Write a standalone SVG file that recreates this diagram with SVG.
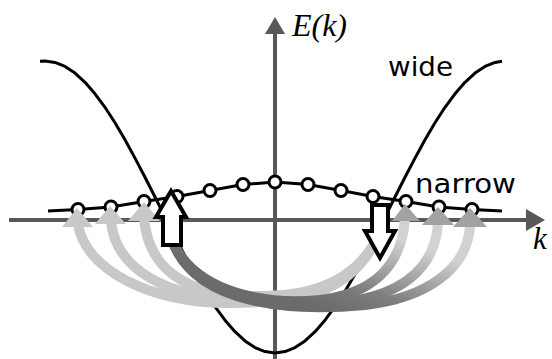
<svg xmlns="http://www.w3.org/2000/svg" width="552" height="359" viewBox="0 0 552 359">
<style>
.axis{stroke:#585858;stroke-width:4;fill:none}
.axhead{fill:#585858}
.band{fill:none;stroke:#000;stroke-width:3;stroke-linejoin:round;stroke-linecap:butt}
.dot{fill:#fff;stroke:#000;stroke-width:3}
.lc{fill:none;stroke:#c8c8c8;stroke-width:10}
.dc{fill:none;stroke:url(#dg);stroke-width:10}
.lh{fill:#c8c8c8}
.dh{fill:#a2a2a2}
.hollow{fill:#fff;stroke:#000;stroke-width:4;stroke-linejoin:miter}
.math{font-family:"Liberation Serif","Times New Roman",serif;font-style:italic;font-size:31px;fill:#000}
.lbl{font-family:"DejaVu Sans",Verdana,sans-serif;font-size:27px;fill:#000}
</style>
<defs>
<linearGradient id="dg" gradientUnits="userSpaceOnUse" x1="300" y1="300" x2="330" y2="215">
<stop offset="0" stop-color="#6b6b6b"/>
<stop offset="0.35" stop-color="#7e7e7e"/>
<stop offset="1" stop-color="#d2d2d2"/>
</linearGradient>
</defs>
<rect width="552" height="359" fill="#fff"/>
<g id="axes">
<line class="axis" x1="9" y1="220" x2="528" y2="220"/>
<polygon class="axhead" points="545,220 526,209 526,231"/>
<line class="axis" x1="275" y1="359" x2="275" y2="32"/>
<polygon class="axhead" points="275,17 265,34 285,34"/>
<text class="math" x="292" y="36" textLength="55" lengthAdjust="spacingAndGlyphs">E(k)</text>
<text class="math" x="533" y="249">k</text>
</g>
<g id="wide-band">
<polyline class="band" points="40,61.3 45,61 55,62.4 65,66.4 75,73.1 85,82.3 95,93.8 105,107.3 115,122.8 125,139.8 135,158.1 145,177.3 155,197 165,217 175,236.7 185,255.9 195,274.2 205,291.2 215,306.7 225,320.2 235,331.7 245,340.9 255,347.6 265,351.6 275,353 285,351.6 295,347.6 305,340.9 315,331.7 325,320.2 335,306.7 345,291.2 355,274.2 365,255.9 375,236.7 385,217 395,197 405,177.3 415,158.1 425,139.8 435,122.8 445,107.3 455,93.8 465,82.3 475,73.1 485,66.4 495,62.4 502,61.2"/>
<text class="lbl" x="388" y="76" textLength="65" lengthAdjust="spacingAndGlyphs">wide</text>
</g>
<g id="narrow-band">
<polyline class="band" points="48,211 78,209.5 111,207 144,201.5 177,196.5 210,190.5 243,184.5 275,182 308,184.5 341,190.5 373,196.5 406,201.5 439,207 472,209.5 502,211"/>
<circle class="dot" cx="78" cy="209.5" r="6"/>
<circle class="dot" cx="111" cy="207" r="6"/>
<circle class="dot" cx="144" cy="201.5" r="6"/>
<circle class="dot" cx="177" cy="196.5" r="6"/>
<circle class="dot" cx="210" cy="190.5" r="6"/>
<circle class="dot" cx="243" cy="184.5" r="6"/>
<circle class="dot" cx="275" cy="182" r="6"/>
<circle class="dot" cx="308" cy="184.5" r="6"/>
<circle class="dot" cx="341" cy="190.5" r="6"/>
<circle class="dot" cx="373" cy="196.5" r="6"/>
<circle class="dot" cx="406" cy="201.5" r="6"/>
<circle class="dot" cx="439" cy="207" r="6"/>
<circle class="dot" cx="472" cy="209.5" r="6"/>
<text class="lbl" x="415" y="193" textLength="101" lengthAdjust="spacingAndGlyphs">narrow</text>
</g>
<g id="connectors">
<path class="lc" d="M374,244 C348,293 300,303 230,303 C150,303 85,270 78,224"/>
<path class="lc" d="M374,244 C348,290 300,300 240,299 C165,298 115,268 111,221"/>
<path class="lc" d="M374,244 C348,288 300,297 250,296 C185,295 148,268 144,218"/>
<path class="dc" d="M172,240 C195,295 270,305 320,300 C370,294 402,268 405,218"/>
<path class="dc" d="M172,240 C195,300 280,310 340,303 C400,296 435,270 438,223"/>
<path class="dc" d="M172,240 C195,305 290,312 365,305 C425,298 468,270 470,225"/>
<polygon class="lh" points="77,208 62,227 93,227"/>
<polygon class="lh" points="110,206 95,224 126,224"/>
<polygon class="lh" points="144,202 128,221 160,221"/>
<polygon class="dh" points="405,204 392,221 420,221"/>
<polygon class="dh" points="438,207 422,225 454,225"/>
<polygon class="dh" points="470,208 453,227 487,227"/>
</g>
<g id="up-arrow">
<polygon class="hollow" points="171,191 186,217 181,217 181,245 163,245 163,217 156,217"/>
</g>
<g id="down-arrow">
<polygon class="hollow" points="372,205 388,205 388,231 395,231 380,258 365,231 372,231"/>
</g>
</svg>
